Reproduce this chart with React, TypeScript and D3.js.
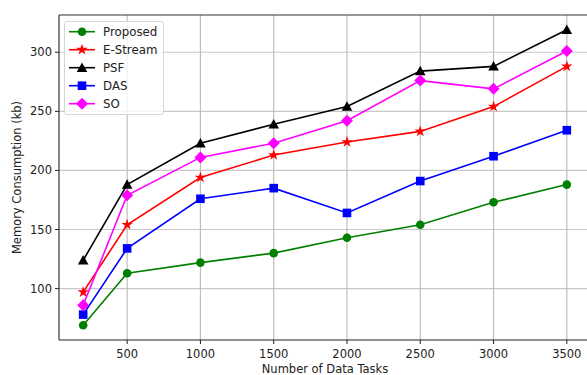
import React from "react";
import * as d3 from "d3";

const W = 587;
const H = 375;
const M = { left: 59, top: 15, right: 591, bottom: 340 };

const tasks = [200, 500, 1000, 1500, 2000, 2500, 3000, 3500];
const xTicks = [500, 1000, 1500, 2000, 2500, 3000, 3500];
const yTicks = [100, 150, 200, 250, 300];

const proposed = [69, 113, 122, 130, 143, 154, 173, 188];
const eStream = [97, 154, 194, 213, 224, 233, 254, 288];
const psf = [124, 188, 223, 239, 254, 284, 288, 319];
const das = [78, 134, 176, 185, 164, 191, 212, 234];
const so = [86, 179, 211, 223, 242, 276, 269, 301];

const seriesList = [
  { name: "Proposed", values: proposed, color: "green", marker: "circle" },
  { name: "E-Stream", values: eStream, color: "red", marker: "star" },
  { name: "PSF", values: psf, color: "black", marker: "triangle" },
  { name: "DAS", values: das, color: "blue", marker: "square" },
  { name: "SO", values: so, color: "magenta", marker: "diamond" },
];

const FONT = "DejaVu Sans, sans-serif";

const Marker = ({ type, x, y, color }: { type: string; x: number; y: number; color: string }) => {
  if (type === "circle") return <circle cx={x} cy={y} r={4.3} fill={color} />;
  if (type === "square") return <rect x={x - 4.3} y={y - 4.3} width={8.6} height={8.6} fill={color} />;
  if (type === "diamond")
    return <path d={`M${x},${y - 6}L${x + 6},${y}L${x},${y + 6}L${x - 6},${y}Z`} fill={color} />;
  if (type === "triangle")
    return <path d={`M${x},${y - 5.3}L${x + 5.3},${y + 4.2}L${x - 5.3},${y + 4.2}Z`} fill={color} />;
  // star
  const p = d3.symbol(d3.symbolStar, 40)();
  return <path d={p || ""} transform={`translate(${x},${y})`} fill={color} />;
};

export default function App() {
  const x = d3.scaleLinear().domain([35, 3665]).range([M.left, M.right]);
  const y = d3.scaleLinear().domain([56.5, 331.5]).range([M.bottom, M.top]);
  const line = d3
    .line<number>()
    .x((_, i) => x(tasks[i]))
    .y((d) => y(d));

  return (
    <svg width={W} height={H} style={{ position: "absolute", left: 0, top: 0, background: "white" }}>
      <rect width={W} height={H} fill="white" />
      {/* grid */}
      {yTicks.map((t) => (
        <line key={"gy" + t} x1={M.left} x2={M.right} y1={y(t)} y2={y(t)} stroke="#c8c8c8" strokeWidth={1.2} />
      ))}
      {xTicks.map((t) => (
        <line key={"gx" + t} x1={x(t)} x2={x(t)} y1={M.top} y2={M.bottom} stroke="#bdbdbd" strokeWidth={1.2} />
      ))}
      {/* series */}
      {seriesList.map((s) => (
        <g key={s.name}>
          <path d={line(s.values) || ""} fill="none" stroke={s.color} strokeWidth={1.6} />
          {s.values.map((v, i) => (
            <Marker key={i} type={s.marker} x={x(tasks[i])} y={y(v)} color={s.color} />
          ))}
        </g>
      ))}
      {/* spines */}
      <line x1={M.left} x2={M.right} y1={M.top} y2={M.top} stroke="#333" strokeWidth={1} />
      <line x1={M.left} x2={M.left} y1={M.top} y2={M.bottom} stroke="#222" strokeWidth={1.1} />
      <line x1={M.left} x2={M.right} y1={M.bottom} y2={M.bottom} stroke="#222" strokeWidth={1.1} />
      {/* ticks */}
      {xTicks.map((t) => (
        <g key={"tx" + t}>
          <line x1={x(t)} x2={x(t)} y1={M.bottom} y2={M.bottom + 4} stroke="#222" />
          <text x={x(t)} y={M.bottom + 18} textAnchor="middle" fontFamily={FONT} fontSize={11.5} fill="#222">
            {t}
          </text>
        </g>
      ))}
      {yTicks.map((t) => (
        <g key={"ty" + t}>
          <line x1={M.left - 4} x2={M.left} y1={y(t)} y2={y(t)} stroke="#222" />
          <text x={M.left - 7} y={y(t) + 4} textAnchor="end" fontFamily={FONT} fontSize={11.5} fill="#222">
            {t}
          </text>
        </g>
      ))}
      <text x={(M.left + M.right) / 2} y={373} textAnchor="middle" fontFamily={FONT} fontSize={11.5} fill="#222">
        Number of Data Tasks
      </text>
      <text
        transform={`translate(21,${(M.top + M.bottom) / 2}) rotate(-90)`}
        textAnchor="middle"
        fontFamily={FONT}
        fontSize={11.5}
        fill="#222"
      >
        Memory Consumption (kb)
      </text>
      {/* legend */}
      <rect x={64.5} y={21.5} width={99} height={93} rx={2} fill="white" fillOpacity={0.8} stroke="#d6d6d6" />
      {seriesList.map((s, i) => {
        const ly = 31.7 + i * 18;
        return (
          <g key={"lg" + s.name}>
            <line x1={69} x2={95} y1={ly} y2={ly} stroke={s.color} strokeWidth={1.6} />
            <Marker type={s.marker} x={82} y={ly} color={s.color} />
            <text x={103} y={ly + 4.2} fontFamily={FONT} fontSize={11.8} fill="#222">
              {s.name}
            </text>
          </g>
        );
      })}
    </svg>
  );
}
